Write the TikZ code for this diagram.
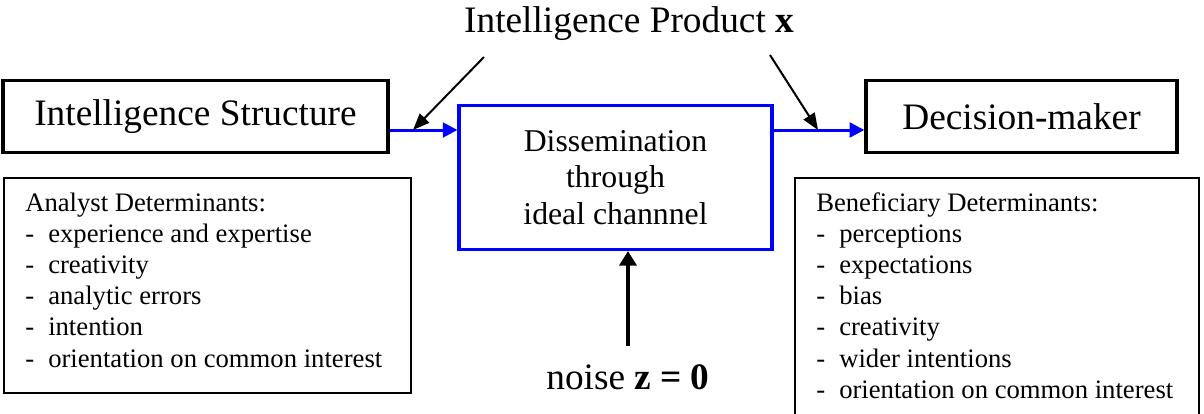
\documentclass[tikz,border=0pt]{standalone}
\usepackage{fontspec}
\setmainfont{Liberation Serif}
\usetikzlibrary{arrows.meta,calc}
\begin{document}
\begin{tikzpicture}[x=0.75pt,y=-0.75pt,
  bigbox/.style={draw, line width=2.5pt, inner sep=0pt, font=\fontsize{28}{33}\selectfont},
  chan/.style={draw=blue, line width=2.3pt, inner sep=0pt, align=center, font=\fontsize{23.8}{27.4}\selectfont},
  detbox/.style={draw, line width=1.1pt, inner sep=0pt},
  dettext/.style={anchor=base west, inner sep=0pt, font=\fontsize{20}{23}\selectfont},
  bluearr/.style={draw=blue, line width=2.25pt, -{Triangle[length=11pt,width=11pt]}},
  thinarr/.style={line width=1.5pt, -{Triangle[length=12.5pt,width=9.75pt]}},
  noisearr/.style={line width=3pt, -{Triangle[length=11pt,width=12.75pt]}},
  toptext/.style={inner sep=0pt, anchor=base, font=\fontsize{28}{33}\selectfont}
]
\useasboundingbox (0,0) rectangle (1204,414);
\clip (0,0) rectangle (1204,414);

% main boxes
\node[bigbox, minimum width=288.75pt, minimum height=54pt] (is) at (195.5,116.5) {Intelligence Structure};
\node[bigbox, minimum width=233.25pt, minimum height=54pt] (dm) at (1021.5,116.5) {Decision-maker};
\node[chan, minimum width=234.75pt, minimum height=108pt] (dis) at (615.5,177.5) {Dissemination\\through\\ideal channnel};

% determinant boxes
\node[detbox, minimum width=305.25pt, minimum height=161.25pt] (an) at (207.5,285.5) {};
\node[detbox, minimum width=303pt, minimum height=189pt] (ben) at (997,304) {};

\node[dettext] (ah) at (25,211) {Analyst Determinants:};
\foreach \t [count=\i] in {experience and expertise, creativity, analytic errors, intention, orientation on common interest}
  \node[dettext] (a\i) at (25,{211+31.2*\i}) {\makebox[17.25pt][l]{-}\t};

\node[dettext] (bh) at (816,211) {Beneficiary Determinants:};
\foreach \t [count=\i] in {perceptions, expectations, bias, creativity, wider intentions, orientation on common interest}
  \node[dettext] (b\i) at (816,{211+31.2*\i}) {\makebox[17.25pt][l]{-}\t};

% labels
\node[toptext] (ip) at (629,32) {Intelligence Product \textbf{x}};
\node[toptext] (noise) at (628,389) {noise \textbf{z = 0}};

% blue flow arrows
\draw[bluearr] (is.east |- 0,130) -- (dis.west |- 0,130);
\draw[bluearr] (dis.east |- 0,130) -- (dm.west |- 0,130);

% product arrows
\coordinate (p1) at (484,57);
\coordinate (j1) at (413,130);
\coordinate (p2) at (770,55);
\coordinate (j2) at (818,130);
\draw[thinarr] (p1) -- (j1);
\draw[thinarr] (p2) -- (j2);

% noise arrow
\draw[noisearr] ([yshift=13.5pt]noise.north) -- (noise.north |- dis.south);
\end{tikzpicture}
\end{document}
